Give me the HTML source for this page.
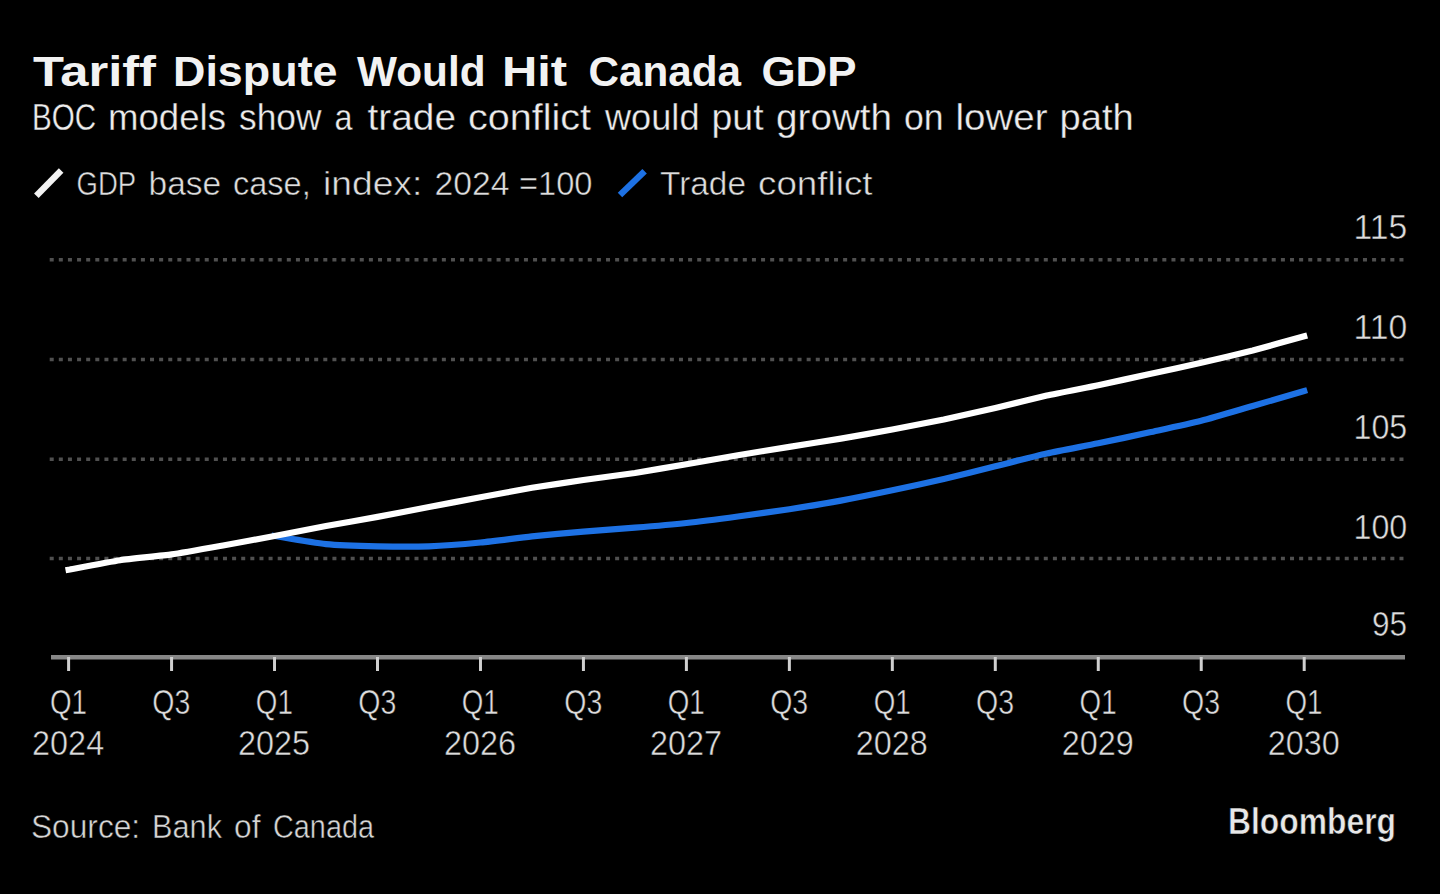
<!DOCTYPE html>
<html><head><meta charset="utf-8">
<style>
html,body{margin:0;padding:0;background:#000;width:1440px;height:894px;overflow:hidden}
svg{display:block}
text{font-family:"Liberation Sans",sans-serif}
</style></head><body>
<svg width="1440" height="894" viewBox="0 0 1440 894">
<rect width="1440" height="894" fill="#000"/>
<text x="33.00" y="85.9" font-size="42.3" font-weight="bold" fill="#f2f2f2" textLength="123.00" lengthAdjust="spacingAndGlyphs">Tariff</text>
<text x="173.00" y="85.9" font-size="42.3" font-weight="bold" fill="#f2f2f2" textLength="164.56" lengthAdjust="spacingAndGlyphs">Dispute</text>
<text x="357.00" y="85.9" font-size="42.3" font-weight="bold" fill="#f2f2f2" textLength="128.50" lengthAdjust="spacingAndGlyphs">Would</text>
<text x="502.00" y="85.9" font-size="42.3" font-weight="bold" fill="#f2f2f2" textLength="65.13" lengthAdjust="spacingAndGlyphs">Hit</text>
<text x="588.50" y="85.9" font-size="42.3" font-weight="bold" fill="#f2f2f2" textLength="152.50" lengthAdjust="spacingAndGlyphs">Canada</text>
<text x="761.50" y="85.9" font-size="42.3" font-weight="bold" fill="#f2f2f2" textLength="95.03" lengthAdjust="spacingAndGlyphs">GDP</text>
<text x="32.00" y="129.7" font-size="36.8" fill="#ececec" stroke="#000" stroke-width="0.35" textLength="64.10" lengthAdjust="spacingAndGlyphs">BOC</text>
<text x="108.00" y="129.7" font-size="36.8" fill="#ececec" stroke="#000" stroke-width="0.35" textLength="118.05" lengthAdjust="spacingAndGlyphs">models</text>
<text x="239.00" y="129.7" font-size="36.8" fill="#ececec" stroke="#000" stroke-width="0.35" textLength="82.49" lengthAdjust="spacingAndGlyphs">show</text>
<text x="334.50" y="129.7" font-size="36.8" fill="#ececec" stroke="#000" stroke-width="0.35" textLength="17.97" lengthAdjust="spacingAndGlyphs">a</text>
<text x="367.50" y="129.7" font-size="36.8" fill="#ececec" stroke="#000" stroke-width="0.35" textLength="88.54" lengthAdjust="spacingAndGlyphs">trade</text>
<text x="468.00" y="129.7" font-size="36.8" fill="#ececec" stroke="#000" stroke-width="0.35" textLength="123.01" lengthAdjust="spacingAndGlyphs">conflict</text>
<text x="605.00" y="129.7" font-size="36.8" fill="#ececec" stroke="#000" stroke-width="0.35" textLength="94.51" lengthAdjust="spacingAndGlyphs">would</text>
<text x="711.50" y="129.7" font-size="36.8" fill="#ececec" stroke="#000" stroke-width="0.35" textLength="52.04" lengthAdjust="spacingAndGlyphs">put</text>
<text x="776.00" y="129.7" font-size="36.8" fill="#ececec" stroke="#000" stroke-width="0.35" textLength="116.10" lengthAdjust="spacingAndGlyphs">growth</text>
<text x="904.00" y="129.7" font-size="36.8" fill="#ececec" stroke="#000" stroke-width="0.35" textLength="39.61" lengthAdjust="spacingAndGlyphs">on</text>
<text x="955.50" y="129.7" font-size="36.8" fill="#ececec" stroke="#000" stroke-width="0.35" textLength="92.06" lengthAdjust="spacingAndGlyphs">lower</text>
<text x="1059.50" y="129.7" font-size="36.8" fill="#ececec" stroke="#000" stroke-width="0.35" textLength="74.18" lengthAdjust="spacingAndGlyphs">path</text>
<text x="76.50" y="194.65" font-size="32.9" fill="#dedede" stroke="#000" stroke-width="0.5" textLength="59.60" lengthAdjust="spacingAndGlyphs">GDP</text>
<text x="148.50" y="194.65" font-size="32.9" fill="#dedede" stroke="#000" stroke-width="0.5" textLength="72.65" lengthAdjust="spacingAndGlyphs">base</text>
<text x="233.00" y="194.65" font-size="32.9" fill="#dedede" stroke="#000" stroke-width="0.5" textLength="77.67" lengthAdjust="spacingAndGlyphs">case,</text>
<text x="323.00" y="194.65" font-size="32.9" fill="#dedede" stroke="#000" stroke-width="0.5" textLength="99.25" lengthAdjust="spacingAndGlyphs">index:</text>
<text x="434.50" y="194.65" font-size="32.9" fill="#dedede" stroke="#000" stroke-width="0.5" textLength="75.05" lengthAdjust="spacingAndGlyphs">2024</text>
<text x="519.00" y="194.65" font-size="32.9" fill="#dedede" stroke="#000" stroke-width="0.5" textLength="73.53" lengthAdjust="spacingAndGlyphs">=100</text>
<text x="660.00" y="194.65" font-size="32.9" fill="#dedede" stroke="#000" stroke-width="0.5" textLength="86.00" lengthAdjust="spacingAndGlyphs">Trade</text>
<text x="758.00" y="194.65" font-size="32.9" fill="#dedede" stroke="#000" stroke-width="0.5" textLength="114.50" lengthAdjust="spacingAndGlyphs">conflict</text>
<text x="31.00" y="838.25" font-size="33.5" fill="#d6d6d6" stroke="#000" stroke-width="0.5" textLength="109.12" lengthAdjust="spacingAndGlyphs">Source:</text>
<text x="152.00" y="838.25" font-size="33.5" fill="#d6d6d6" stroke="#000" stroke-width="0.5" textLength="70.05" lengthAdjust="spacingAndGlyphs">Bank</text>
<text x="234.00" y="838.25" font-size="33.5" fill="#d6d6d6" stroke="#000" stroke-width="0.5" textLength="26.48" lengthAdjust="spacingAndGlyphs">of</text>
<text x="273.00" y="838.25" font-size="33.5" fill="#d6d6d6" stroke="#000" stroke-width="0.5" textLength="101.02" lengthAdjust="spacingAndGlyphs">Canada</text>
<text x="1228.00" y="833.9" font-size="36.3" font-weight="bold" fill="#e8e8e8" stroke="#000" stroke-width="0.6" textLength="168.07" lengthAdjust="spacingAndGlyphs">Bloomberg</text>

<line x1="38.6" y1="193.4" x2="58.9" y2="172.8" stroke="#f2f2f2" stroke-width="6.4" stroke-linecap="square"/>
<line x1="622.3" y1="192.8" x2="642.3" y2="173.5" stroke="#1d71e4" stroke-width="6.4" stroke-linecap="square"/>
<line x1="49.7" y1="259.8" x2="1405" y2="259.8" stroke="#505050" stroke-width="3.5" stroke-dasharray="4 5.12"/>
<line x1="49.7" y1="359.6" x2="1405" y2="359.6" stroke="#505050" stroke-width="3.5" stroke-dasharray="4 5.12"/>
<line x1="49.7" y1="459.2" x2="1405" y2="459.2" stroke="#505050" stroke-width="3.5" stroke-dasharray="4 5.12"/>
<line x1="49.7" y1="558.6" x2="1405" y2="558.6" stroke="#505050" stroke-width="3.5" stroke-dasharray="4 5.12"/>

<line x1="51" y1="657.2" x2="1405" y2="657.2" stroke="#878787" stroke-width="4.5"/>
<line x1="68.60" y1="657" x2="68.60" y2="671" stroke="#cfcfcf" stroke-width="3"/>
<line x1="171.57" y1="657" x2="171.57" y2="671" stroke="#cfcfcf" stroke-width="3"/>
<line x1="274.53" y1="657" x2="274.53" y2="671" stroke="#cfcfcf" stroke-width="3"/>
<line x1="377.50" y1="657" x2="377.50" y2="671" stroke="#cfcfcf" stroke-width="3"/>
<line x1="480.47" y1="657" x2="480.47" y2="671" stroke="#cfcfcf" stroke-width="3"/>
<line x1="583.43" y1="657" x2="583.43" y2="671" stroke="#cfcfcf" stroke-width="3"/>
<line x1="686.40" y1="657" x2="686.40" y2="671" stroke="#cfcfcf" stroke-width="3"/>
<line x1="789.37" y1="657" x2="789.37" y2="671" stroke="#cfcfcf" stroke-width="3"/>
<line x1="892.33" y1="657" x2="892.33" y2="671" stroke="#cfcfcf" stroke-width="3"/>
<line x1="995.30" y1="657" x2="995.30" y2="671" stroke="#cfcfcf" stroke-width="3"/>
<line x1="1098.27" y1="657" x2="1098.27" y2="671" stroke="#cfcfcf" stroke-width="3"/>
<line x1="1201.23" y1="657" x2="1201.23" y2="671" stroke="#cfcfcf" stroke-width="3"/>
<line x1="1304.20" y1="657" x2="1304.20" y2="671" stroke="#cfcfcf" stroke-width="3"/>

<text x="1353.50" y="238.75" font-size="34.9" fill="#dcdcdc" stroke="#000" stroke-width="0.5" textLength="53.71" lengthAdjust="spacingAndGlyphs">115</text>
<text x="1353.50" y="338.75" font-size="34.9" fill="#dcdcdc" stroke="#000" stroke-width="0.5" textLength="53.71" lengthAdjust="spacingAndGlyphs">110</text>
<text x="1353.50" y="438.85" font-size="34.9" fill="#dcdcdc" stroke="#000" stroke-width="0.5" textLength="53.71" lengthAdjust="spacingAndGlyphs">105</text>
<text x="1353.50" y="539.05" font-size="34.9" fill="#dcdcdc" stroke="#000" stroke-width="0.5" textLength="53.71" lengthAdjust="spacingAndGlyphs">100</text>
<text x="1372.00" y="635.95" font-size="34.9" fill="#dcdcdc" stroke="#000" stroke-width="0.5" textLength="35.10" lengthAdjust="spacingAndGlyphs">95</text>

<text x="49.90" y="714.45" font-size="34.9" fill="#dcdcdc" stroke="#000" stroke-width="0.5" textLength="37.03" lengthAdjust="spacingAndGlyphs">Q1</text>
<text x="32.10" y="754.65" font-size="34.2" fill="#dcdcdc" stroke="#000" stroke-width="0.5" textLength="72.06" lengthAdjust="spacingAndGlyphs">2024</text>
<text x="152.37" y="714.45" font-size="34.9" fill="#dcdcdc" stroke="#000" stroke-width="0.5" textLength="38.04" lengthAdjust="spacingAndGlyphs">Q3</text>
<text x="255.83" y="714.45" font-size="34.9" fill="#dcdcdc" stroke="#000" stroke-width="0.5" textLength="37.03" lengthAdjust="spacingAndGlyphs">Q1</text>
<text x="238.03" y="754.65" font-size="34.2" fill="#dcdcdc" stroke="#000" stroke-width="0.5" textLength="72.06" lengthAdjust="spacingAndGlyphs">2025</text>
<text x="358.30" y="714.45" font-size="34.9" fill="#dcdcdc" stroke="#000" stroke-width="0.5" textLength="38.04" lengthAdjust="spacingAndGlyphs">Q3</text>
<text x="461.77" y="714.45" font-size="34.9" fill="#dcdcdc" stroke="#000" stroke-width="0.5" textLength="37.03" lengthAdjust="spacingAndGlyphs">Q1</text>
<text x="443.97" y="754.65" font-size="34.2" fill="#dcdcdc" stroke="#000" stroke-width="0.5" textLength="72.06" lengthAdjust="spacingAndGlyphs">2026</text>
<text x="564.23" y="714.45" font-size="34.9" fill="#dcdcdc" stroke="#000" stroke-width="0.5" textLength="38.04" lengthAdjust="spacingAndGlyphs">Q3</text>
<text x="667.70" y="714.45" font-size="34.9" fill="#dcdcdc" stroke="#000" stroke-width="0.5" textLength="37.03" lengthAdjust="spacingAndGlyphs">Q1</text>
<text x="649.90" y="754.65" font-size="34.2" fill="#dcdcdc" stroke="#000" stroke-width="0.5" textLength="72.06" lengthAdjust="spacingAndGlyphs">2027</text>
<text x="770.17" y="714.45" font-size="34.9" fill="#dcdcdc" stroke="#000" stroke-width="0.5" textLength="38.04" lengthAdjust="spacingAndGlyphs">Q3</text>
<text x="873.63" y="714.45" font-size="34.9" fill="#dcdcdc" stroke="#000" stroke-width="0.5" textLength="37.03" lengthAdjust="spacingAndGlyphs">Q1</text>
<text x="855.83" y="754.65" font-size="34.2" fill="#dcdcdc" stroke="#000" stroke-width="0.5" textLength="72.06" lengthAdjust="spacingAndGlyphs">2028</text>
<text x="976.10" y="714.45" font-size="34.9" fill="#dcdcdc" stroke="#000" stroke-width="0.5" textLength="38.04" lengthAdjust="spacingAndGlyphs">Q3</text>
<text x="1079.57" y="714.45" font-size="34.9" fill="#dcdcdc" stroke="#000" stroke-width="0.5" textLength="37.03" lengthAdjust="spacingAndGlyphs">Q1</text>
<text x="1061.77" y="754.65" font-size="34.2" fill="#dcdcdc" stroke="#000" stroke-width="0.5" textLength="72.06" lengthAdjust="spacingAndGlyphs">2029</text>
<text x="1182.03" y="714.45" font-size="34.9" fill="#dcdcdc" stroke="#000" stroke-width="0.5" textLength="38.04" lengthAdjust="spacingAndGlyphs">Q3</text>
<text x="1285.50" y="714.45" font-size="34.9" fill="#dcdcdc" stroke="#000" stroke-width="0.5" textLength="37.03" lengthAdjust="spacingAndGlyphs">Q1</text>
<text x="1267.70" y="754.65" font-size="34.2" fill="#dcdcdc" stroke="#000" stroke-width="0.5" textLength="72.06" lengthAdjust="spacingAndGlyphs">2030</text>

<path d="M274.53,536.00 C280.54,536.95 314.00,542.90 326.02,544.10 C338.03,545.30 365.49,546.04 377.50,546.30 C389.51,546.56 416.97,546.74 428.98,546.30 C441.00,545.86 468.45,543.65 480.47,542.50 C492.48,541.35 519.94,537.67 531.95,536.40 C543.96,535.13 571.42,532.62 583.43,531.60 C595.45,530.59 622.90,528.70 634.92,527.70 C646.93,526.70 674.39,524.31 686.40,523.00 C698.41,521.69 725.87,518.11 737.88,516.50 C749.90,514.89 777.35,511.06 789.37,509.20 C801.38,507.34 828.84,502.81 840.85,500.60 C852.86,498.40 880.32,492.82 892.33,490.30 C904.35,487.78 931.80,481.80 943.82,479.00 C955.83,476.20 983.29,469.28 995.30,466.30 C1007.31,463.32 1034.77,456.18 1046.78,453.50 C1058.80,450.82 1086.25,445.77 1098.27,443.30 C1110.28,440.83 1137.74,434.93 1149.75,432.30 C1161.76,429.68 1189.22,423.87 1201.23,420.80 C1213.25,417.73 1240.70,409.48 1252.72,406.00 C1264.73,402.52 1298.19,392.75 1304.20,391.00" fill="none" stroke="#1d71e4" stroke-width="6.2" stroke-linecap="square" stroke-linejoin="round"/>
<path d="M68.60,569.70 C72.89,568.91 111.50,561.48 120.08,560.20 C128.66,558.93 162.99,555.62 171.57,554.40 C180.15,553.17 214.47,547.03 223.05,545.50 C231.63,543.97 265.95,537.62 274.53,536.00 C283.11,534.38 317.44,527.59 326.02,526.00 C334.60,524.41 368.92,518.48 377.50,516.90 C386.08,515.32 420.40,508.63 428.98,507.00 C437.56,505.37 471.89,498.90 480.47,497.30 C489.05,495.70 523.37,489.24 531.95,487.80 C540.53,486.36 574.85,481.23 583.43,480.00 C592.01,478.77 626.34,474.32 634.92,473.00 C643.50,471.68 677.82,465.68 686.40,464.20 C694.98,462.72 729.30,456.64 737.88,455.20 C746.46,453.76 780.79,448.28 789.37,446.90 C797.95,445.52 832.27,440.05 840.85,438.60 C849.43,437.15 883.75,431.09 892.33,429.50 C900.91,427.91 935.24,421.29 943.82,419.50 C952.40,417.71 986.72,409.99 995.30,408.00 C1003.88,406.01 1038.20,397.50 1046.78,395.60 C1055.36,393.70 1089.69,387.00 1098.27,385.20 C1106.85,383.40 1141.17,375.87 1149.75,374.00 C1158.33,372.13 1192.65,364.77 1201.23,362.80 C1209.81,360.83 1244.14,352.61 1252.72,350.40 C1261.30,348.19 1299.91,337.48 1304.20,336.30" fill="none" stroke="#ffffff" stroke-width="6.2" stroke-linecap="square" stroke-linejoin="round"/>
</svg>
</body></html>
